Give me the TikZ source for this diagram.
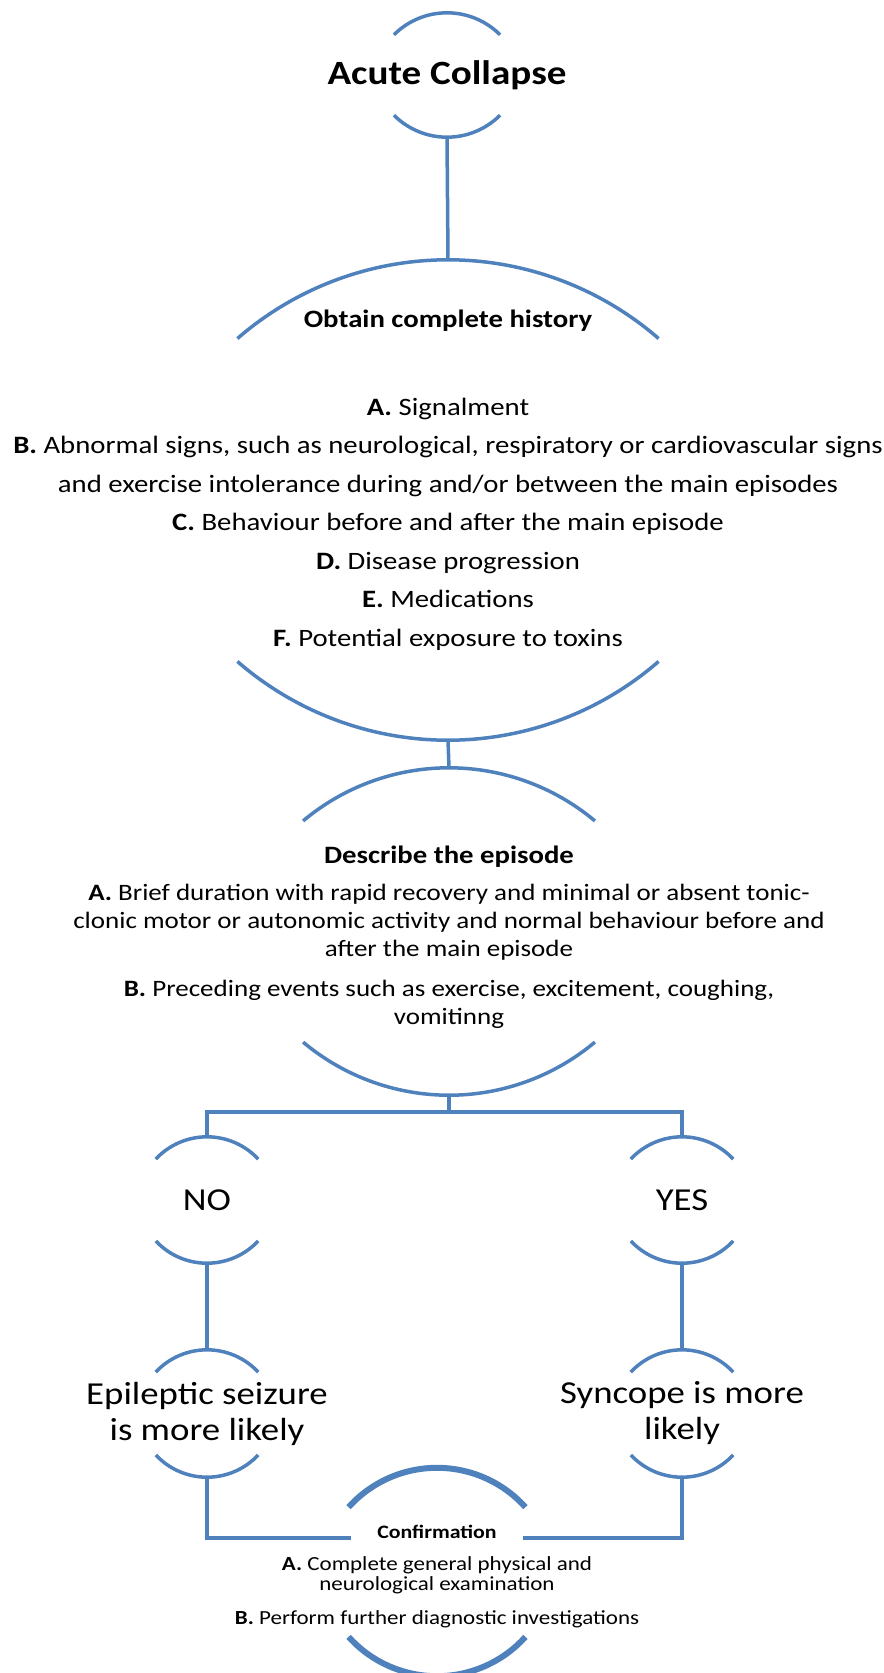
\documentclass[tikz,border=0pt]{standalone}
\usepackage{fontspec}
\setmainfont{Carlito}[FakeStretch=1.15]
\usetikzlibrary{positioning,calc}
\definecolor{capblue}{HTML}{4F81BD}
\tikzset{
    every node/.style={inner sep=0pt,text=black},
    capline/.style={draw=capblue,line width=3.5bp},
    capbox/.style={align=center,minimum width=100bp},
    headline/.style={font=\fontsize{34bp}{40bp}\selectfont\bfseries},
    bigtext/.style={font=\fontsize{32bp}{36bp}\selectfont},
    titletext/.style={font=\fontsize{25bp}{30bp}\selectfont\bfseries,align=center},
    listtext/.style={font=\fontsize{25bp}{38.5bp}\selectfont,align=center},
    desctext/.style={font=\fontsize{23.5bp}{28bp}\selectfont,align=center},
    conftitle/.style={font=\fontsize{19bp}{22bp}\selectfont\bfseries},
    conftext/.style={font=\fontsize{20bp}{20bp}\selectfont,align=center}
}
% top and bottom arcs of a box: node, radius, half angle
\newcommand{\capsarcs}[4][]{%
    \draw[capline,#1] (#2.north) arc[start angle=90,delta angle=#4,radius=#3]
        (#2.north) arc[start angle=90,delta angle=-#4,radius=#3]
        (#2.south) arc[start angle=270,delta angle=#4,radius=#3]
        (#2.south) arc[start angle=270,delta angle=-#4,radius=#3];
}

\begin{document}
\begin{tikzpicture}[x=1bp,y=1bp]
\useasboundingbox (0,0) rectangle (883,-1673);

% boxes
\node[capbox,headline,minimum height=124bp] (acute) at (447,-75) {Acute Collapse};
\node[capbox,minimum height=480bp] (history) at (448,-500) {};
\node[capbox,minimum height=327bp] (describe) at (449,-931.5) {};
\node[capbox,bigtext,minimum height=126bp] (no) at (207,-1200) {NO};
\node[capbox,bigtext,minimum height=126bp] (yes) at (682,-1200) {YES};
\node[capbox,bigtext,minimum height=127bp] (epileptic) at (207,-1413.5) {Epileptic seizure\\is more likely};
\node[capbox,bigtext,minimum height=127bp] (syncope) at (682,-1413.5) {Syncope is more\\likely};
\node[capbox,minimum height=208bp] (confirm) at (437,-1572) {};

% texts
\node[titletext,anchor=base] (historytitle) at (448,-327) {Obtain complete history};
\node[listtext] (historylist) at (448,-524) {\textbf{A.} Signalment\\
    \textbf{B.} Abnormal signs, such as neurological, respiratory or cardiovascular signs\\
    and exercise intolerance during and/or between the main episodes\\
    \textbf{C.} Behaviour before and after the main episode\\
    \textbf{D.} Disease progression\\
    \textbf{E.} Medications\\
    \textbf{F.} Potential exposure to toxins};
\node[titletext,anchor=base] (describetitle) at (449,-863) {Describe the episode};
\node[desctext] (describetext) at (449,-956) {\textbf{A.} Brief duration with rapid recovery and minimal or absent tonic-\\
    clonic motor or autonomic activity and normal behaviour before and\\
    after the main episode\\[12bp]
    \textbf{B.} Preceding events such as exercise, excitement, coughing,\\
    vomitinng};
\node[conftitle,anchor=base,minimum width=171bp] (confirmtitle) at (437,-1538) {Confirmation};
\node[conftext] (confirmtext) at (437,-1592) {\textbf{A.} Complete general physical and\\
    neurological examination\\[14bp]
    \textbf{B.} Perform further diagnostic investigations};

% arcs
\capsarcs{acute}{75}{45}
\capsarcs{history}{321}{41}
\capsarcs{describe}{227}{40}
\capsarcs{no}{70}{47}
\capsarcs{yes}{70}{47}
\capsarcs{epileptic}{70}{47}
\capsarcs{syncope}{70}{47}
\capsarcs[line width=6bp]{confirm}{119}{48}

% connectors
\coordinate (fork) at (449,-1112);
\draw[capline] (acute.south) -- (history.north);
\draw[capline] (history.south) -- (describe.north);
\draw[capline] (describe.south) -- (fork);
\draw[capline] (no.north) |- (fork) -| (yes.north);
\draw[capline] (no.south) -- (epileptic.north);
\draw[capline] (yes.south) -- (syncope.north);
\draw[capline] (epileptic.south) |- (confirmtitle.base west);
\draw[capline] (syncope.south) |- (confirmtitle.base east);
\end{tikzpicture}
\end{document}
